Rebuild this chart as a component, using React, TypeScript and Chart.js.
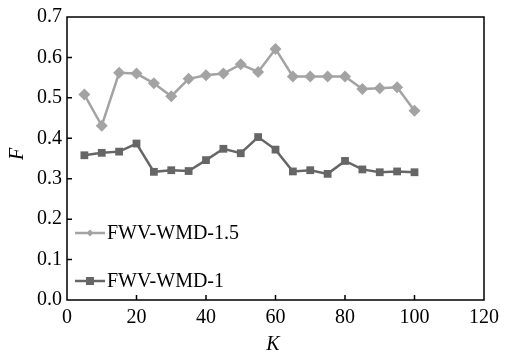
import React, { useEffect, useRef } from "react";
import { Chart, registerables } from "chart.js";

Chart.register(...registerables);

const kValues = [5, 10, 15, 20, 25, 30, 35, 40, 45, 50, 55, 60, 65, 70, 75, 80, 85, 90, 95, 100];
const fwv15 = [0.508, 0.431, 0.562, 0.56, 0.536, 0.504, 0.547, 0.556, 0.56, 0.583, 0.564, 0.621, 0.553, 0.553, 0.553, 0.553, 0.522, 0.524, 0.526, 0.468];
const fwv1 = [0.358, 0.364, 0.367, 0.387, 0.317, 0.321, 0.319, 0.346, 0.374, 0.363, 0.403, 0.372, 0.318, 0.321, 0.312, 0.344, 0.323, 0.316, 0.318, 0.316];
const seriesNames = ["FWV-WMD-1.5", "FWV-WMD-1"];
const xTicks = [0, 20, 40, 60, 80, 100, 120];
const yTicks = [0, 0.1, 0.2, 0.3, 0.4, 0.5, 0.6, 0.7];

const LIGHT = "#a3a3a3";
const DARK = "#666666";
const FONT = "'Liberation Serif', 'Times New Roman', serif";

const framePlugin = {
  id: "frame",
  afterDraw(chart: any) {
    const { ctx, chartArea } = chart;
    const { left, right, top, bottom } = chartArea;
    const xs = chart.scales.x;
    const ys = chart.scales.y;
    ctx.save();
    ctx.strokeStyle = "#000";
    ctx.lineWidth = 1.5;
    ctx.strokeRect(left, top, right - left, bottom - top);
    ctx.lineWidth = 1.5;
    ctx.beginPath();
    for (const v of xTicks) {
      if (v === xTicks[0] || v === xTicks[xTicks.length - 1]) continue;
      const px = xs.getPixelForValue(v);
      ctx.moveTo(px, bottom);
      ctx.lineTo(px, bottom - 5);
    }
    for (const v of yTicks) {
      if (v === yTicks[0] || v === yTicks[yTicks.length - 1]) continue;
      const py = ys.getPixelForValue(v);
      ctx.moveTo(left, py);
      ctx.lineTo(left + 5, py);
    }
    ctx.stroke();

    // axis titles
    ctx.fillStyle = "#000";
    ctx.font = `italic 20px ${FONT}`;
    ctx.textAlign = "center";
    ctx.textBaseline = "middle";
    ctx.fillText("K", 273, 345);
    ctx.save();
    ctx.translate(18, 154);
    ctx.rotate(-Math.PI / 2);
    ctx.fillText("F", 0, 0);
    ctx.restore();

    // legend
    const rows = [
      { name: seriesNames[0], color: LIGHT, y: 233, shape: "diamond" },
      { name: seriesNames[1], color: DARK, y: 281, shape: "square" },
    ];
    for (const r of rows) {
      ctx.strokeStyle = r.color;
      ctx.lineWidth = 2.5;
      ctx.beginPath();
      ctx.moveTo(75, r.y);
      ctx.lineTo(105, r.y);
      ctx.stroke();
      ctx.fillStyle = r.color;
      if (r.shape === "diamond") {
        ctx.beginPath();
        ctx.moveTo(90, r.y - 3.5);
        ctx.lineTo(93.5, r.y);
        ctx.lineTo(90, r.y + 3.5);
        ctx.lineTo(86.5, r.y);
        ctx.closePath();
        ctx.fill();
      } else {
        ctx.fillRect(86, r.y - 4, 8, 8);
      }
      ctx.fillStyle = "#000";
      ctx.font = `20px ${FONT}`;
      ctx.textAlign = "left";
      ctx.textBaseline = "middle";
      ctx.fillText(r.name, 107, r.y + 1);
    }
    ctx.restore();
  },
};

export default function App() {
  const ref = useRef<HTMLCanvasElement | null>(null);
  useEffect(() => {
    if (!ref.current) return;
    const chart = new Chart(ref.current, {
      type: "line",
      data: {
        datasets: [
          {
            label: seriesNames[0],
            data: kValues.map((k, i) => ({ x: k, y: fwv15[i] })),
            borderColor: LIGHT,
            backgroundColor: LIGHT,
            borderWidth: 2.5,
            pointStyle: "rectRot",
            pointRadius: 6,
            pointBorderWidth: 0,
            tension: 0,
          },
          {
            label: seriesNames[1],
            data: kValues.map((k, i) => ({ x: k, y: fwv1[i] })),
            borderColor: DARK,
            backgroundColor: DARK,
            borderWidth: 2.5,
            pointStyle: "rect",
            pointRadius: 5.5,
            pointBorderWidth: 0,
            tension: 0,
          },
        ],
      },
      options: {
        animation: false,
        responsive: false,
        maintainAspectRatio: false,
        layout: { padding: { left: 0, right: 23, top: 12, bottom: 0 } },
        plugins: { legend: { display: false }, tooltip: { enabled: false } },
        scales: {
          x: {
            type: "linear",
            min: 0,
            max: 120,
            afterBuildTicks: (s: any) => {
              s.ticks = xTicks.map((v) => ({ value: v }));
            },
            afterFit: (s: any) => {
              s.height = 54;
            },
            grid: { display: false, drawTicks: false },
            border: { display: false },
            ticks: {
              color: "#000",
              font: { family: FONT, size: 20 },
              padding: 6,
              maxRotation: 0,
            },
          },
          y: {
            type: "linear",
            min: 0,
            max: 0.7,
            afterBuildTicks: (s: any) => {
              s.ticks = yTicks.map((v) => ({ value: v }));
            },
            afterFit: (s: any) => {
              s.width = 67;
            },
            grid: { display: false, drawTicks: false },
            border: { display: false },
            ticks: {
              color: "#000",
              font: { family: FONT, size: 20 },
              padding: 5,
              callback: (v: any) => Number(v).toFixed(1),
            },
          },
        },
      },
      plugins: [framePlugin],
    });
    return () => chart.destroy();
  }, []);
  return (
    <div style={{ position: "absolute", left: 0, top: 0, width: 507, height: 354, background: "#fff" }}>
      <canvas ref={ref} width={507} height={354} style={{ width: 507, height: 354 }} />
    </div>
  );
}
